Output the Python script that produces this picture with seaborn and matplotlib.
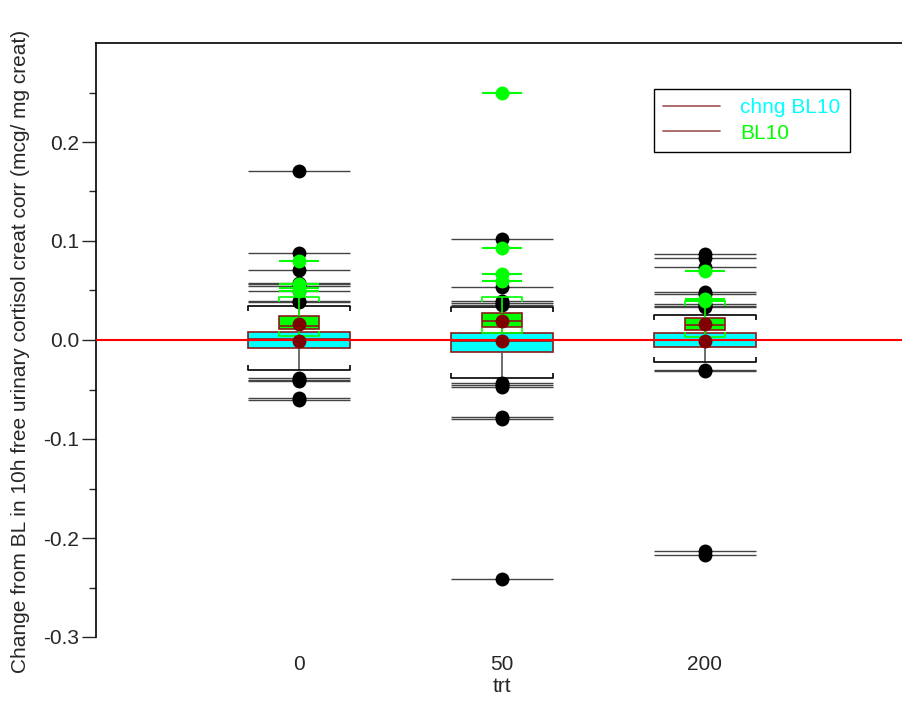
import matplotlib
matplotlib.use("Agg")
import matplotlib.pyplot as plt
from matplotlib.lines import Line2D
import pandas as pd
import seaborn as sns
import numpy as np

trt = ["0", "50", "200"]

# chng BL10 box summaries (whisker low, q1, median, q3, whisker high) and means
chng_lo = [-0.030, -0.038, -0.022]
chng_q1 = [-0.008, -0.0118, -0.0074]
chng_med = [0.001, -0.0007, 0.000]
chng_q3 = [0.0084, 0.0067, 0.0074]
chng_hi = [0.034, 0.0336, 0.025]
chng_mean = [-0.0013, -0.0013, -0.0007]

# BL10 box summaries and means
bl_lo = [0.0043, 0.0067, 0.0027]
bl_q1 = [0.011, 0.0134, 0.010]
bl_med = [0.0138, 0.0195, 0.0154]
bl_q3 = [0.0245, 0.0269, 0.0218]
bl_hi = [0.043, 0.0436, 0.039]
bl_mean = [0.016, 0.0195, 0.016]

# points outside the whiskers
chng_out_0 = [0.171, 0.088, 0.071, 0.058, 0.0565, 0.055, 0.050, 0.0395, 0.038,
              -0.0383, -0.040, -0.0416, -0.0587, -0.0604]
chng_out_50 = [0.102, 0.0537, 0.039, 0.0373, 0.0356,
               -0.0436, -0.0455, -0.0477, -0.0779, -0.0799, -0.241]
chng_out_200 = [0.0873, 0.0833, 0.0738, 0.048, 0.0463, 0.0363, 0.0346, 0.033,
                -0.030, -0.0315, -0.2135, -0.2175]
bl_out_0 = [0.080, 0.057, 0.053, 0.050]
bl_out_50 = [0.250, 0.0934, 0.067, 0.060]
bl_out_200 = [0.0695, 0.041, 0.0395]

chng_w = 0.5
bl_w = 0.2
CYAN = "#00ffff"
GREEN = "#00ff00"
MAROON = "#800000"
EDGE = "#8b1a1a"
FS = 15


def box_frame(lo, q1, med, q3, hi):
    rows = []
    for i, t in enumerate(trt):
        for v in (lo[i], q1[i], med[i], q3[i], hi[i]):
            rows.append((t, v))
    return pd.DataFrame(rows, columns=["trt", "value"])


def out_frame(groups):
    rows = []
    for t, vals in zip(trt, groups):
        for v in vals:
            rows.append((t, v))
    return pd.DataFrame(rows, columns=["trt", "value"])


chng_df = box_frame(chng_lo, chng_q1, chng_med, chng_q3, chng_hi)
bl_df = box_frame(bl_lo, bl_q1, bl_med, bl_q3, bl_hi)
chng_pts = out_frame([chng_out_0, chng_out_50, chng_out_200])
bl_pts = out_frame([bl_out_0, bl_out_50, bl_out_200])
means = pd.DataFrame({"trt": trt * 2, "value": chng_mean + bl_mean})

sns.set_style("white")
plt.rcParams["font.family"] = ["Liberation Sans", "DejaVu Sans"]

fig = plt.figure(figsize=(9.03, 7.16), dpi=100)
# axes runs a little past the right edge of the figure, as in the original
ax = fig.add_axes([96 / 903, 1 - 637 / 716, 812 / 903, (637 - 43) / 716])

sns.boxplot(data=chng_df, x="trt", y="value", order=trt, ax=ax, width=chng_w,
            whis=(0, 100), showfliers=False, saturation=1, color=CYAN,
            linewidth=1.2, capwidths=chng_w, zorder=2,
            boxprops=dict(edgecolor=EDGE),
            medianprops=dict(color=EDGE, linewidth=1.2),
            whiskerprops=dict(color="#555555", linewidth=1.2),
            capprops=dict(color="black", linewidth=1.2))

# horizontal lines through the points
for i, vals in enumerate([chng_out_0, chng_out_50, chng_out_200]):
    ax.hlines(vals, i - chng_w / 2, i + chng_w / 2, color="#444444", lw=1.0, zorder=2.5)
sns.stripplot(data=chng_pts, x="trt", y="value", order=trt, ax=ax, jitter=False,
              color="black", size=10, linewidth=0, zorder=3)

sns.boxplot(data=bl_df, x="trt", y="value", order=trt, ax=ax, width=bl_w,
            whis=(0, 100), showfliers=False, saturation=1, color=GREEN,
            linewidth=1.2, capwidths=bl_w, zorder=4,
            boxprops=dict(edgecolor=EDGE),
            medianprops=dict(color=EDGE, linewidth=1.2),
            whiskerprops=dict(color=GREEN, linewidth=1.2),
            capprops=dict(color=GREEN, linewidth=1.2))

for i, vals in enumerate([bl_out_0, bl_out_50, bl_out_200]):
    ax.hlines(vals, i - bl_w / 2, i + bl_w / 2, color=GREEN, lw=1.5, zorder=4.5)
sns.stripplot(data=bl_pts, x="trt", y="value", order=trt, ax=ax, jitter=False,
              color=GREEN, size=10, linewidth=0, zorder=5)

# little end ticks on the caps, pointing toward the box
for i in range(3):
    for lo, hi, w, c in [(chng_lo[i], chng_hi[i], chng_w, "black"),
                         (bl_lo[i], bl_hi[i], bl_w, GREEN)]:
        for x in (i - w / 2, i + w / 2):
            ax.vlines(x, hi - 0.005, hi, color=c, lw=1.2, zorder=4)
            ax.vlines(x, lo, lo + 0.005, color=c, lw=1.2, zorder=4)

ax.axhline(0, color="red", lw=1.5, zorder=5.5)

sns.stripplot(data=means, x="trt", y="value", order=trt, ax=ax, jitter=False,
              color=MAROON, size=10, linewidth=0, zorder=6)

ax.set_xlim(-1, 3)
ax.set_ylim(-0.3, 0.3)
ax.set_yticks(np.arange(-0.3, 0.25, 0.1))
ax.set_yticks(np.arange(-0.25, 0.3, 0.1), minor=True)
ax.set_yticklabels([f"{v:.1f}" for v in np.arange(-0.3, 0.25, 0.1)])
ax.tick_params(axis="y", which="major", length=10, width=1, direction="out",
               labelsize=FS, pad=2, left=True)
ax.tick_params(axis="y", which="minor", length=5, width=1, direction="out", left=True)
ax.tick_params(axis="x", length=0, labelsize=FS, pad=13)
for s in ["right", "bottom"]:
    ax.spines[s].set_visible(False)
for s in ["left", "top"]:
    ax.spines[s].set_color("black")
    ax.spines[s].set_linewidth(1.2)

ax.set_xlabel("trt", fontsize=FS, labelpad=2)
ax.set_ylabel("Change from BL in 10h free urinary cortisol creat corr (mcg/ mg creat)",
              fontsize=FS)
ax.yaxis.set_label_coords((30 - 96) / 812, (637 - 351) / 594)

handles = [Line2D([], [], color="#a86060", lw=1.3), Line2D([], [], color="#a86060", lw=1.3)]
leg = ax.legend(handles, ["chng BL10", "BL10"], loc="upper left",
                bbox_to_anchor=(654 / 903, 1 - 89 / 716), bbox_transform=fig.transFigure,
                fontsize=FS, frameon=True, fancybox=False, framealpha=1,
                edgecolor="black", handlelength=2.7, handletextpad=1.0,
                labelspacing=0.3, borderpad=0.45, borderaxespad=0)
leg.get_frame().set_linewidth(1)
for txt, c in zip(leg.get_texts(), [CYAN, GREEN]):
    txt.set_color(c)

fig.savefig("out.png", dpi=100)
